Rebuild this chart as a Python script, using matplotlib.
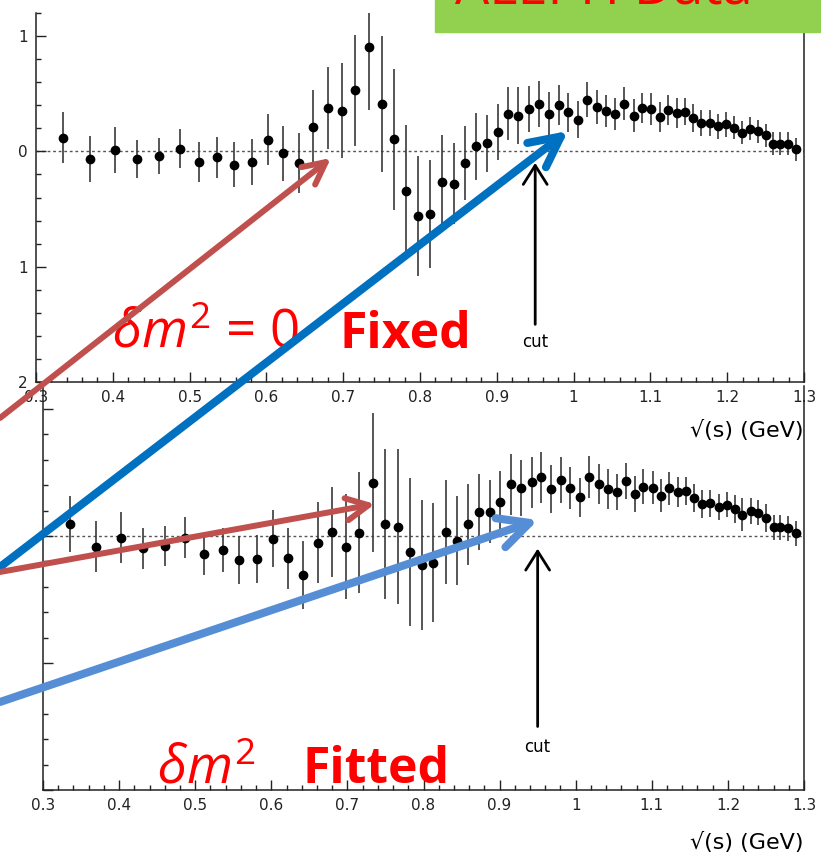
import matplotlib
matplotlib.use("Agg")
import matplotlib.pyplot as plt
from matplotlib.patches import FancyArrowPatch, Rectangle
from matplotlib.ticker import MultipleLocator

plt.rcParams.update({"mathtext.fontset": "custom", "mathtext.it": "Open Sans:italic",
                     "mathtext.rm": "Open Sans", "mathtext.bf": "Open Sans:bold"})

# bin centres, sqrt(s) in GeV
sqrt_s = [0.3355, 0.370, 0.403, 0.432, 0.460, 0.487, 0.512, 0.536, 0.558, 0.581,
          0.602, 0.622, 0.642, 0.661, 0.680, 0.698, 0.715, 0.733, 0.750, 0.766,
          0.782, 0.798, 0.813, 0.829, 0.844, 0.859, 0.873, 0.887, 0.901, 0.915,
          0.928, 0.942, 0.955, 0.968, 0.981, 0.993, 1.006, 1.018, 1.030, 1.042,
          1.054, 1.066, 1.078, 1.089, 1.101, 1.112, 1.123, 1.134, 1.145, 1.156,
          1.166, 1.177, 1.188, 1.199, 1.209, 1.219, 1.230, 1.240, 1.250, 1.260,
          1.269, 1.279, 1.289]

# delta m^2 = 0 fixed (top)
fixed_val = [0.118, -0.063, 0.011, -0.063, -0.040, 0.023, -0.092, -0.052, -0.115, -0.092,
             0.100, -0.017, -0.100, 0.213, 0.373, 0.353, 0.528, 0.905, 0.411, 0.103,
             -0.340, -0.557, -0.543, -0.265, -0.279, -0.098, 0.043, 0.069, 0.170, 0.325,
             0.310, 0.368, 0.408, 0.325, 0.400, 0.339, 0.276, 0.448, 0.385, 0.353,
             0.325, 0.414, 0.310, 0.376, 0.368, 0.299, 0.362, 0.330, 0.345, 0.287,
             0.247, 0.247, 0.218, 0.235, 0.207, 0.161, 0.195, 0.175, 0.138, 0.066,
             0.066, 0.066, 0.017]
fixed_err = [0.22, 0.20, 0.20, 0.165, 0.16, 0.17, 0.17, 0.18, 0.195, 0.20,
             0.22, 0.24, 0.26, 0.32, 0.355, 0.41, 0.48, 0.55, 0.59, 0.61,
             0.57, 0.52, 0.47, 0.41, 0.35, 0.32, 0.29, 0.25, 0.245, 0.23,
             0.25, 0.20, 0.20, 0.19, 0.175, 0.17, 0.16, 0.15, 0.15, 0.14,
             0.14, 0.14, 0.14, 0.13, 0.14, 0.13, 0.13, 0.13, 0.12, 0.12,
             0.11, 0.11, 0.11, 0.11, 0.10, 0.10, 0.10, 0.10, 0.10, 0.10,
             0.10, 0.10, 0.10]

# delta m^2 fitted (bottom)
fitted_val = [0.094, -0.084, -0.013, -0.097, -0.079, -0.013, -0.144, -0.110, -0.189, -0.184,
              -0.021, -0.176, -0.307, -0.052, 0.029, -0.084, 0.026, 0.420, 0.094, 0.073,
              -0.126, -0.231, -0.210, 0.034, -0.037, 0.092, 0.191, 0.191, 0.270, 0.407,
              0.380, 0.423, 0.460, 0.367, 0.440, 0.375, 0.304, 0.467, 0.409, 0.370,
              0.346, 0.433, 0.328, 0.388, 0.380, 0.315, 0.375, 0.346, 0.357, 0.297,
              0.252, 0.257, 0.226, 0.247, 0.213, 0.165, 0.197, 0.184, 0.144, 0.068,
              0.068, 0.060, 0.021]
fitted_err = [0.22, 0.20, 0.20, 0.16, 0.16, 0.16, 0.165, 0.176, 0.19, 0.19,
              0.226, 0.24, 0.27, 0.315, 0.354, 0.415, 0.475, 0.55, 0.59, 0.61,
              0.58, 0.51, 0.47, 0.41, 0.35, 0.32, 0.30, 0.25, 0.24, 0.24,
              0.22, 0.20, 0.20, 0.19, 0.18, 0.165, 0.155, 0.165, 0.155, 0.155,
              0.14, 0.14, 0.14, 0.14, 0.13, 0.13, 0.13, 0.12, 0.11, 0.11,
              0.11, 0.105, 0.10, 0.10, 0.11, 0.13, 0.10, 0.10, 0.11, 0.10,
              0.10, 0.10, 0.10]

cut_pos = 0.95
xtick_vals = [0.3, 0.4, 0.5, 0.6, 0.7, 0.8, 0.9, 1.0, 1.1, 1.2, 1.3]
xtick_labels = ["0.3", "0.4", "0.5", "0.6", "0.7", "0.8", "0.9", "1", "1.1", "1.2", "1.3"]
ytick_vals = [-2, -1, 0, 1]
ytick_labels = ["2", "1", "0", "1"]

W, H = 821, 859
fig = plt.figure(figsize=(W / 100, H / 100), dpi=100)


def px(x, y):
    return (x / W, 1 - y / H)


def axes_px(x0, y0, x1, y1):
    return [x0 / W, 1 - y1 / H, (x1 - x0) / W, (y1 - y0) / H]


def style(ax, ylabels):
    ax.set_xlim(0.3, 1.3)
    ax.patch.set_visible(False)
    ax.spines["top"].set_visible(False)
    for s in ("left", "bottom", "right"):
        ax.spines[s].set_color("#222")
        ax.spines[s].set_linewidth(1.1)
    ax.set_xticks(xtick_vals, labels=xtick_labels)
    ax.set_yticks(ytick_vals, labels=ylabels)
    ax.xaxis.set_minor_locator(MultipleLocator(0.02))
    ax.yaxis.set_minor_locator(MultipleLocator(0.2))
    ax.tick_params(which="both", direction="in", color="#222", width=1,
                   labelsize=11, labelcolor="#222", right=False, top=False)
    ax.tick_params(which="major", length=7, pad=6)
    ax.tick_params(which="minor", length=3.5)
    ax.axhline(0, color="#555", lw=1, ls=(0, (2, 2)), zorder=1)


def panel(ax, vals, errs, ylabels):
    style(ax, ylabels)
    ax.errorbar(sqrt_s, vals, yerr=errs, fmt="o", ms=6, color="k", ecolor="#3a3a3a",
                elinewidth=1.2, capsize=0, zorder=3)
    ax.annotate("", xy=(cut_pos, -0.1), xytext=(cut_pos, -1.5),
                arrowprops=dict(arrowstyle="->,head_length=0.68,head_width=0.43",
                                lw=2, color="k", shrinkA=0, shrinkB=0, mutation_scale=20))
    ax.text(cut_pos, -1.70, "cut", ha="center", va="baseline", fontsize=12)


ax_bot = fig.add_axes(axes_px(43, 386, 804, 790))
ax_bot.set_ylim(-2, 1.18)
panel(ax_bot, fitted_val, fitted_err, ["", "", "", ""])

ax_top = fig.add_axes(axes_px(36, 13, 804, 382))
ax_top.set_ylim(-2, 1.2)
panel(ax_top, fixed_val, fixed_err, ytick_labels)

fig.text(*px(803, 437), "\u221a(s) (GeV)", ha="right", va="baseline", fontsize=16)
fig.text(*px(803, 849), "\u221a(s) (GeV)", ha="right", va="baseline", fontsize=16)

# green title box (title text runs off the top edge, as in the slide)
fig.add_artist(Rectangle(px(435, 32), (W - 435) / W, 32 / H, transform=fig.transFigure,
                         color="#92D050", zorder=2))
fig.text(*px(455, 4), "ALEPH Data", color="red", fontsize=39, fontfamily="Open Sans",
         va="baseline", zorder=3)

# big red labels
red = "#FF0000"
fig.text(*px(112, 348), r"$\delta m^2$ = 0", color=red, fontsize=38,
         fontfamily="Open Sans", va="baseline", zorder=3)
fig.text(*px(340, 348), "Fixed", color=red, fontsize=36, fontweight="bold",
         fontfamily="Open Sans", va="baseline", zorder=3)
fig.text(*px(157, 783), r"$\delta m^2$", color=red, fontsize=38,
         fontfamily="Open Sans", va="baseline", zorder=3)
fig.text(*px(302, 783), "Fitted", color=red, fontsize=36, fontweight="bold",
         fontfamily="Open Sans", va="baseline", zorder=3)

# overlay arrows
arrows = [((0, 418), (331, 158), "#C0504D", 4.3, 0.8, 0.4),
          ((0, 567), (568, 131), "#0070C0", 5.8, 1.1, 0.55),
          ((0, 572), (375, 504), "#C0504D", 4.3, 0.8, 0.4),
          ((0, 702), (538, 520), "#558ED5", 5.8, 1.1, 0.55)]
for start, end, col, lw, hl, hw in arrows:
    fig.add_artist(FancyArrowPatch(px(*start), px(*end), transform=fig.transFigure,
                                   arrowstyle=f"->,head_length={hl},head_width={hw}",
                                   mutation_scale=20, color=col, lw=lw, shrinkA=0, shrinkB=0,
                                   capstyle="round", joinstyle="round", zorder=5))

fig.savefig("out.png", dpi=100)
